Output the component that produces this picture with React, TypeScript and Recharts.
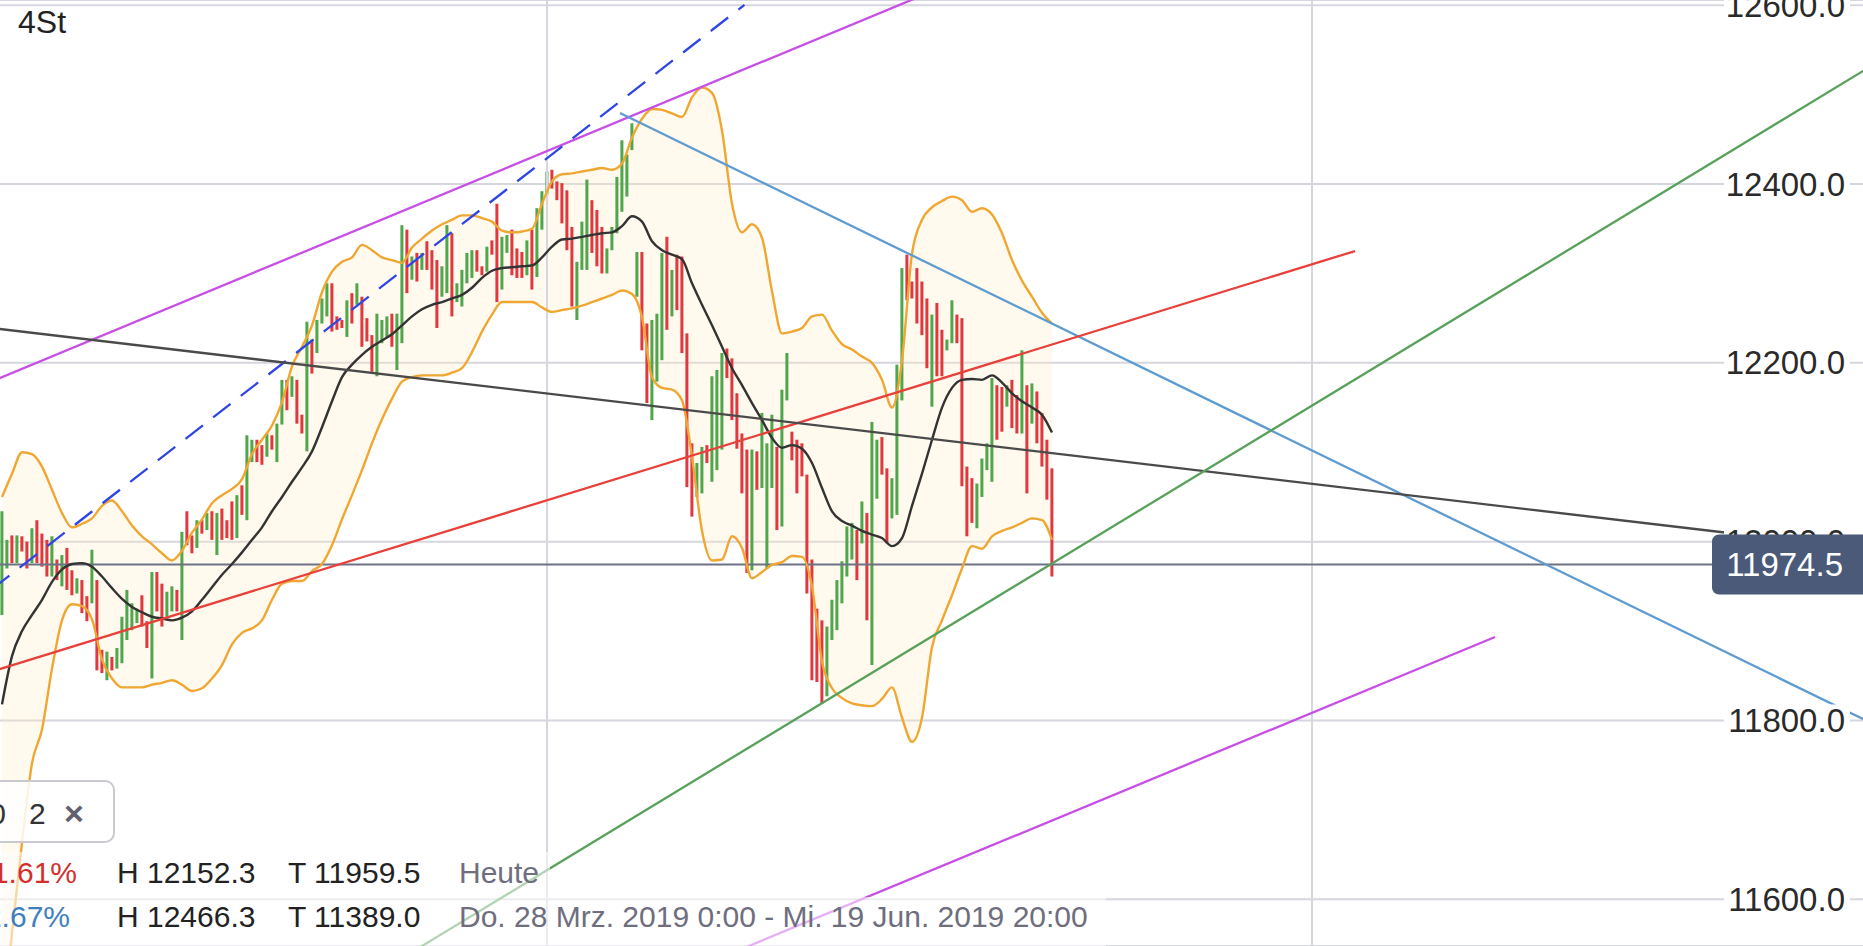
import React from "react";
import {
  ComposedChart,
  Bar,
  Line,
  Area,
  XAxis,
  YAxis,
  CartesianGrid,
  ReferenceLine,
} from "recharts";

const W = 1863;
const H = 946;
const FONT = '"Liberation Sans", Arial, Helvetica, sans-serif';

// 4h bars, index 0..210 (G = up bar, R = down bar)
const barDir =
  "GGRGRRGRRR" + "GRGRRGRRGR" + "RGRGGGGGRR" + "GRRGGRGRRG" + "RGRGRRRGRG" +
  "GRRGRGGRGR" + "RGRGGGRRRG" + "RGRRRGGGRG" + "GRGRGRRRGG" + "RGGGGRRGRR" +
  "GGRRRGRGGG" + "RRRRRGGGRR" + "RGGGGGGGRR" + "GGGRGRRRRG" + "GRGGGRRRRR" +
  "GRGGGRGGRR" + "RRRRRGGGGG" + "GRGRGGRRGG" + "GRRRRRGRRG" + "GRRRRGGGGR" +
  "RGRRGRGRRR" + "R";

const barHigh = [
  12034, 12002, 12007, 12007, 12006, 12000, 12015, 12024, 12009, 12002,
  12006, 11980, 11985, 11993, 11968, 11959, 11957, 11939, 11991, 11957,
  11879, 11877, 11871, 11881, 11916, 11946, 11931, 11925, 11940, 11911,
  11966, 11966, 11953, 11944, 11950, 11946, 12011, 12034, 12007, 12024,
  12024, 12032, 12034, 12032, 12037, 12024, 12045, 12052, 12063, 12119,
  12114, 12114, 12108, 12121, 12119, 12132, 12181, 12181, 12185, 12181,
  12142, 12246, 12226, 12248, 12272, 12289, 12289, 12252, 12248, 12270,
  12278, 12289, 12274, 12250, 12231, 12255, 12248, 12252, 12255, 12255,
  12354, 12349, 12319, 12323, 12323, 12336, 12326, 12315, 12308, 12354,
  12345, 12289, 12304, 12323, 12326, 12326, 12308, 12330, 12337, 12378,
  12341, 12343, 12349, 12328, 12324, 12337, 12349, 12373, 12392, 12414,
  12416, 12403, 12401, 12393, 12352, 12313, 12358, 12405, 12382, 12371,
  12352, 12328, 12352, 12408, 12449, 12433, 12468, 12324, 12324, 12244,
  12248, 12255, 12323, 12341, 12304, 12321, 12319, 12233, 12110, 12088,
  12106, 12108, 12185, 12192, 12211, 12216, 12205, 12166, 12121, 12103,
  12103, 12101, 12144, 12110, 12142, 12106, 12170, 12211, 12123, 12114,
  12110, 12075, 11980, 11925, 11912, 11905, 11935, 11957, 11978, 12017,
  12021, 12013, 12045, 12032, 12134, 12114, 12117, 12082, 12071, 12198,
  12306, 12321, 12291, 12306, 12291, 12272, 12254, 12267, 12237, 12226,
  12270, 12254, 12250, 12084, 12071, 12065, 12093, 12110, 12183, 12175,
  12173, 12175, 12181, 12164, 12214, 12175, 12177, 12168, 12144, 12114,
  12082,
];

const barLow = [
  11918, 11970, 11976, 11976, 11989, 11970, 11976, 11976, 11972, 11961,
  11961, 11957, 11950, 11946, 11940, 11942, 11920, 11911, 11931, 11856,
  11853, 11845, 11856, 11858, 11864, 11890, 11901, 11909, 11905, 11881,
  11847, 11922, 11905, 11916, 11922, 11922, 11890, 11996, 11987, 11993,
  12009, 12013, 12002, 11985, 12002, 12004, 12002, 12004, 12030, 12024,
  12089, 12089, 12086, 12095, 12103, 12089, 12131, 12147, 12162, 12132,
  12121, 12101, 12188, 12211, 12244, 12252, 12235, 12237, 12239, 12229,
  12244, 12265, 12218, 12224, 12190, 12185, 12222, 12229, 12218, 12192,
  12222, 12278, 12293, 12291, 12304, 12304, 12282, 12239, 12274, 12278,
  12252, 12268, 12263, 12289, 12295, 12302, 12298, 12302, 12321, 12268,
  12282, 12323, 12298, 12295, 12295, 12298, 12282, 12296, 12349, 12388,
  12395, 12382, 12356, 12326, 12263, 12248, 12304, 12304, 12323, 12308,
  12300, 12300, 12326, 12345, 12369, 12386, 12438, 12274, 12214, 12155,
  12136, 12179, 12203, 12237, 12252, 12259, 12211, 12061, 12028, 12050,
  12054, 12088, 12067, 12080, 12103, 12183, 12136, 12104, 12054, 11965,
  11968, 12058, 12060, 11970, 12060, 12013, 12017, 12158, 12091, 12054,
  12073, 11942, 11845, 11843, 11819, 11827, 11890, 11901, 11931, 11961,
  11980, 11957, 11998, 11912, 11862, 12048, 12075, 11998, 12026, 12030,
  12158, 12270, 12272, 12244, 12231, 12194, 12151, 12185, 12185, 12214,
  12222, 12222, 12062, 12006, 12021, 12015, 12050, 12080, 12067, 12114,
  12123, 12151, 12127, 12121, 12121, 12054, 12132, 12110, 12084, 12047,
  11961,
];

// Bollinger band and its middle line, read every second bar (index 0, 2, ... 210)
const bandUpper = [
  12050, 12076, 12100, 12098, 12084, 12058, 12032, 12016, 12020, 12026,
  12040, 12046, 12034, 12018, 12006, 11997, 11987, 11979, 11990, 12010,
  12025, 12043, 12052, 12059, 12070, 12098, 12114, 12130, 12156, 12196,
  12218, 12242, 12279, 12302, 12313, 12318, 12332, 12326, 12318, 12315,
  12312, 12329, 12339, 12348, 12355, 12360, 12365, 12365, 12362, 12358,
  12348, 12346, 12347, 12350, 12378, 12403, 12411, 12412, 12414, 12416,
  12418, 12416, 12423, 12452, 12473, 12484, 12483, 12479, 12475, 12497,
  12508, 12502, 12460, 12378, 12346, 12355, 12340, 12280, 12233, 12235,
  12239, 12252, 12254, 12236, 12221, 12215, 12207, 12200, 12181, 12150,
  12203, 12322, 12360, 12374, 12381, 12386, 12382, 12369, 12373, 12366,
  12345, 12315, 12292, 12274, 12256, 12244,
];

const bandLower = [
  11460, 11562, 11663, 11752, 11790, 11858, 11912, 11930, 11928, 11913,
  11868, 11847, 11837, 11837, 11837, 11840, 11842, 11845, 11840, 11833,
  11836, 11847, 11862, 11885, 11898, 11903, 11912, 11935, 11953, 11956,
  11956, 11967, 11975, 11996, 12025, 12052, 12080, 12110, 12137, 12160,
  12179, 12184, 12186, 12186, 12186, 12189, 12194, 12212, 12235, 12254,
  12268, 12268, 12268, 12268, 12262, 12257, 12259, 12261, 12264, 12268,
  12272, 12276, 12281, 12277, 12251, 12184, 12172, 12170, 12158, 12095,
  12012, 11979, 11980, 12006, 11993, 11959, 11966, 11974, 11977, 11984,
  11983, 11950, 11866, 11836, 11825, 11819, 11817, 11816, 11824, 11837,
  11803, 11776, 11803, 11882, 11912, 11940, 11970, 11995, 11992, 12006,
  12012, 12016, 12021, 12026, 12024, 12002,
];

const bandMid = [
  11818, 11872, 11900, 11918, 11935, 11955, 11969, 11975, 11976, 11972,
  11961, 11948, 11936, 11927, 11921, 11916, 11914, 11912, 11915, 11922,
  11935, 11949, 11963, 11975, 11988, 12002, 12016, 12034, 12050, 12067,
  12083, 12101, 12128, 12157, 12184, 12198, 12209, 12218, 12225, 12232,
  12242, 12252, 12260, 12265, 12268, 12272, 12276, 12284, 12295, 12303,
  12306, 12307, 12308, 12309, 12318, 12330, 12338, 12339, 12341, 12343,
  12345, 12346, 12353, 12364, 12358, 12336, 12326, 12321, 12316, 12289,
  12265, 12242, 12218, 12194, 12175, 12155, 12136, 12116, 12105, 12108,
  12104, 12088, 12060, 12034, 12023, 12018, 12012, 12008, 12004, 11995,
  12004, 12040, 12076, 12114, 12150, 12172, 12181, 12182, 12181, 12186,
  12178, 12166, 12157, 12150, 12142, 12122,
];

// trend lines: [bar index, price] at both ends
const channelTop = [[-2, 12179.4], [186, 12615.5]];
const channelBottom = [[145, 11537.5], [298.6, 11893.4]];
const dashedTrend = [[-2, 11946.9], [148.5, 12600.5]];
const downTrend = [[123.6, 12479.5], [380, 11780.3]];
const redTrend = [[-2, 11854.8], [270.6, 12325.1]];
const grayTrend = [[-2, 12238.9], [345.4, 12009.7]];
const greenTrend = [[80, 11534.1], [376, 12539.4]];

const lastPrice = 11974.5;
const yTicks = [11600, 11800, 12000, 12200, 12400, 12600];
const dayLines = [109, 262];
const xDomain = [-0.4, 372.2];
const yDomain = [11547.7, 12605.9];

const trends = {
  t1: channelTop,
  t2: channelBottom,
  t3: dashedTrend,
  t4: downTrend,
  t5: redTrend,
  t6: grayTrend,
  t7: greenTrend,
};

const rowMap = new Map<number, any>();
const row = (k: number) => {
  if (!rowMap.has(k)) rowMap.set(k, { k });
  return rowMap.get(k);
};
barHigh.forEach((h, i) =>
  Object.assign(row(i), { hi: h, lo: barLow[i], up: barDir[i] === "G" })
);
bandUpper.forEach((u, i) =>
  Object.assign(row(i * 2), { bbU: u, bbL: bandLower[i], ma: bandMid[i] })
);
Object.entries(trends).forEach(([name, pts]) =>
  pts.forEach(([k, v]) => {
    row(k)[name] = v;
  })
);
const rows = [...rowMap.values()].sort((a, b) => a.k - b.k);

const GREEN = "#4fa64b";
const RED = "#e0383e";
const GRID = "#d6d6de";

function BarShape(props: any) {
  const { x, y, width, height, payload } = props;
  if (!payload || payload.hi == null || !Number.isFinite(y) || !Number.isFinite(height)) {
    return <g />;
  }
  const cx = x + width / 2;
  return (
    <rect
      x={cx - 1.5}
      y={Math.min(y, y + height)}
      width={3}
      height={Math.max(1, Math.abs(height))}
      fill={payload.up ? GREEN : RED}
    />
  );
}

function PriceTick(props: any) {
  const { y, payload } = props;
  return (
    <g>
      <rect x={1724} y={y - 16} width={126} height={32} fill='#fff' />
      <text
        x={1845}
        y={y}
        textAnchor='end'
        dominantBaseline='central'
        fontSize={33}
        fontFamily={FONT}
        fill='#2a2a2a'
      >
        {Number(payload.value).toFixed(1)}
      </text>
    </g>
  );
}

const trendStyle: Record<string, { stroke: string; dash?: string }> = {
  t1: { stroke: "#c84fe6" },
  t2: { stroke: "#c84fe6" },
  t3: { stroke: "#2f45e6", dash: "22 13" },
  t4: { stroke: "#5e9bd0" },
  t5: { stroke: "#e8403a" },
  t6: { stroke: "#4a4a4a" },
  t7: { stroke: "#58a15a" },
};

export default function App() {
  const priceY = ((yDomain[1] - lastPrice) / (yDomain[1] - yDomain[0])) * H;

  return (
    <div
      style={{
        position: "absolute",
        left: 0,
        top: 0,
        width: W,
        height: H,
        overflow: "hidden",
        background: "#fff",
        fontFamily: FONT,
      }}
    >
      <ComposedChart
        width={W}
        height={H}
        data={rows}
        margin={{ top: 0, right: 0, bottom: 0, left: 0 }}
      >
        <CartesianGrid vertical={false} stroke={GRID} strokeWidth={2} />
        <XAxis type='number' dataKey='k' domain={xDomain} allowDataOverflow hide />
        <YAxis
          orientation='right'
          mirror
          domain={yDomain}
          allowDataOverflow
          ticks={yTicks}
          interval={0}
          axisLine={false}
          tickLine={false}
          tick={<PriceTick />}
        />
        {dayLines.map((k) => (
          <ReferenceLine key={k} x={k} stroke={GRID} strokeWidth={2} />
        ))}

        <Area
          type='monotone'
          dataKey={(d: any) => (d.bbU == null ? null : [d.bbL, d.bbU])}
          stroke='none'
          fill='#ffecc8'
          fillOpacity={0.3}
          connectNulls
          isAnimationActive={false}
          activeDot={false}
        />

        <ReferenceLine y={lastPrice} stroke='#6d7285' strokeWidth={2} />

        <Bar
          dataKey={(d: any) => (d.hi == null ? null : [d.lo, d.hi])}
          barSize={3}
          shape={<BarShape />}
          isAnimationActive={false}
        />

        <Line
          type='monotone'
          dataKey='bbU'
          stroke='#f0a732'
          strokeWidth={2.4}
          dot={false}
          activeDot={false}
          connectNulls
          isAnimationActive={false}
        />
        <Line
          type='monotone'
          dataKey='bbL'
          stroke='#f0a732'
          strokeWidth={2.4}
          dot={false}
          activeDot={false}
          connectNulls
          isAnimationActive={false}
        />
        <Line
          type='monotone'
          dataKey='ma'
          stroke='#333'
          strokeWidth={2.4}
          dot={false}
          activeDot={false}
          connectNulls
          isAnimationActive={false}
        />

        {Object.keys(trends).map((name) => (
          <Line
            key={name}
            type='linear'
            dataKey={name}
            stroke={trendStyle[name].stroke}
            strokeDasharray={trendStyle[name].dash}
            strokeWidth={2.3}
            dot={false}
            activeDot={false}
            connectNulls
            isAnimationActive={false}
          />
        ))}
      </ComposedChart>

      <svg
        width={W}
        height={H}
        style={{ position: "absolute", left: 0, top: 0, pointerEvents: "none" }}
        fontFamily={FONT}
      >
        <text x={18} y={33} fontSize={32} fill='#222'>
          4St
        </text>

        <rect x={1712} y={priceY - 30} width={160} height={60} rx={7} fill='#4a5a78' />
        <text
          x={1843}
          y={priceY}
          textAnchor='end'
          dominantBaseline='central'
          fontSize={33}
          fill='#fff'
        >
          {lastPrice.toFixed(1)}
        </text>

        <rect
          x={-12}
          y={781}
          width={126}
          height={61}
          rx={9}
          fill='#fff'
          fillOpacity={0.85}
          stroke='#c9c9d0'
          strokeWidth={2}
        />
        <text x={6} y={824} textAnchor='end' fontSize={30} fill='#333'>
          20
        </text>
        <text x={29} y={824} fontSize={30} fill='#333'>
          2
        </text>
        <text x={64} y={825} fontSize={34} fontWeight='bold' fill='#5f6070'>
          ×
        </text>

        <rect x={0} y={852} width={550} height={45} fill='#fff' fillOpacity={0.55} />
        <rect x={0} y={897} width={1106} height={49} fill='#fff' fillOpacity={0.55} />

        <text x={77} y={883} textAnchor='end' fontSize={30} fill='#d2302c'>
          -1.61%
        </text>
        <text x={117} y={883} fontSize={30} fill='#222'>
          H 12152.3
        </text>
        <text x={288} y={883} fontSize={30} fill='#222'>
          T 11959.5
        </text>
        <text x={459} y={883} fontSize={30} fill='#6e6e7e'>
          Heute
        </text>

        <text x={70} y={927} textAnchor='end' fontSize={30} fill='#3f7fc0'>
          +2.67%
        </text>
        <text x={117} y={927} fontSize={30} fill='#222'>
          H 12466.3
        </text>
        <text x={288} y={927} fontSize={30} fill='#222'>
          T 11389.0
        </text>
        <text x={459} y={927} fontSize={30} fill='#6e6e7e'>
          Do. 28 Mrz. 2019 0:00 - Mi. 19 Jun. 2019 20:00
        </text>
      </svg>
    </div>
  );
}
